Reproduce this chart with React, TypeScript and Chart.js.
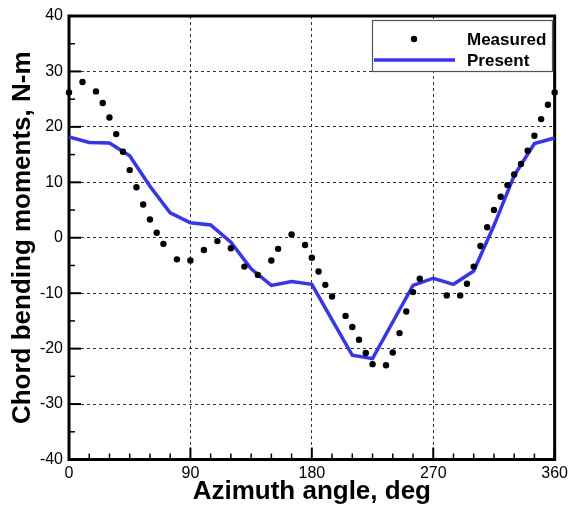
import React, { useEffect, useRef } from "react";
import { Chart, registerables } from "chart.js";

Chart.register(...registerables);

// Measured chord bending moments (azimuth deg, N-m)
const measuredAngles = [0, 10, 20, 25, 30, 35, 40, 45, 50, 55, 60, 65, 70, 80, 90, 100, 110, 120, 130, 140, 150, 155, 165, 175, 180, 185, 190, 195, 205, 210, 215, 220, 225, 235, 240, 245, 250, 255, 260, 280, 290, 295, 300, 305, 310, 315, 320, 325, 330, 335, 340, 345, 350, 355, 360];
const measuredValues = [26.2, 28.1, 26.4, 24.3, 21.7, 18.7, 15.5, 12.2, 9.1, 6.0, 3.3, 0.9, -1.1, -3.9, -4.1, -2.2, -0.6, -1.9, -5.2, -6.7, -4.1, -2.0, 0.6, -1.3, -3.6, -6.1, -8.5, -10.6, -14.1, -16.1, -18.4, -20.8, -22.8, -23.0, -20.7, -17.2, -13.3, -9.8, -7.4, -10.4, -10.4, -8.3, -5.2, -1.5, 1.9, 5.0, 7.4, 9.5, 11.4, 13.3, 15.7, 18.4, 21.4, 24.0, 26.2];

// Present prediction
const presentAngles = [0, 15, 30, 45, 60, 75, 90, 105, 120, 135, 150, 165, 180, 195, 210, 225, 240, 255, 270, 285, 300, 315, 330, 345, 360];
const presentValues = [18.2, 17.2, 17.1, 14.8, 9.3, 4.5, 2.7, 2.3, -0.8, -5.6, -8.6, -7.9, -8.4, -14.8, -21.2, -21.8, -15.2, -8.6, -7.3, -8.4, -6.0, 2.2, 11.2, 17.0, 18.0];

const xTicks = [0, 90, 180, 270, 360];
const yTicks = [-40, -30, -20, -10, 0, 10, 20, 30, 40];
const seriesNames = ["Measured", "Present"];
const xTitle = "Azimuth angle, deg";
const yTitle = "Chord bending moments, N-m";

const FONT = "'Liberation Sans', Arial, Helvetica, sans-serif";
const BLUE = "#3333ff";

const framePlugin = {
  id: "frameTicksLegend",
  beforeDatasetsDraw(chart: any) {
    const { ctx, chartArea } = chart;
    const { left, right, top, bottom } = chartArea;
    const xs = chart.scales.x;
    const ys = chart.scales.y;
    ctx.save();
    ctx.setLineDash([]);
    ctx.strokeStyle = "#000";
    // minor/major ticks on left axis (inward)
    for (let v = -40; v <= 40; v += 5) {
      const y = ys.getPixelForValue(v);
      const major = v % 10 === 0;
      ctx.lineWidth = major ? 2 : 1.5;
      ctx.beginPath();
      ctx.moveTo(left, y);
      ctx.lineTo(left + (major ? 12 : 6), y);
      ctx.stroke();
    }
    // ticks on bottom axis (inward)
    for (let v = 0; v <= 360; v += 15) {
      const x = xs.getPixelForValue(v);
      const major = v % 90 === 0;
      ctx.lineWidth = major ? 2 : 1.5;
      ctx.beginPath();
      ctx.moveTo(x, bottom);
      ctx.lineTo(x, bottom - (major ? 12 : 6));
      ctx.stroke();
    }
    // frame
    ctx.lineWidth = 3;
    ctx.strokeRect(left, top, right - left, bottom - top);
    ctx.restore();
  },
  afterDraw(chart: any) {
    const { ctx } = chart;
    ctx.save();
    ctx.setLineDash([]);
    // legend
    const lx = 372, ly = 20, lw = 180, lh = 51;
    ctx.fillStyle = "#fff";
    ctx.fillRect(lx, ly, lw, lh);
    ctx.lineWidth = 1.2;
    ctx.strokeStyle = "#555";
    ctx.strokeRect(lx + 0.5, ly + 0.5, lw, lh);
    ctx.fillStyle = "#000";
    ctx.beginPath();
    ctx.arc(414, 39, 3.2, 0, Math.PI * 2);
    ctx.fill();
    ctx.strokeStyle = BLUE;
    ctx.lineWidth = 3.5;
    ctx.beginPath();
    ctx.moveTo(374, 60);
    ctx.lineTo(455, 60);
    ctx.stroke();
    ctx.fillStyle = "#000";
    ctx.font = `bold 17px ${FONT}`;
    ctx.textAlign = "left";
    ctx.textBaseline = "alphabetic";
    ctx.fillText(seriesNames[0], 467, 45);
    ctx.fillText(seriesNames[1], 467, 65.5);
    ctx.restore();
  },
};

export default function App() {
  const ref = useRef<HTMLCanvasElement>(null);
  useEffect(() => {
    if (!ref.current) return;
    Chart.defaults.font.family = FONT;
    const measured = measuredAngles.map((a, i) => ({ x: a, y: measuredValues[i] }));
    const present = presentAngles.map((a, i) => ({ x: a, y: presentValues[i] }));
    const chart = new Chart(ref.current, {
      type: "scatter",
      data: {
        datasets: [
          {
            label: seriesNames[0],
            data: measured,
            showLine: false,
            pointRadius: 3.2,
            pointHoverRadius: 3.2,
            pointBackgroundColor: "#000",
            pointBorderWidth: 0,
            backgroundColor: "#000",
            borderColor: "#000",
            clip: false,
            order: 0,
          } as any,
          {
            label: seriesNames[1],
            data: present,
            showLine: true,
            pointRadius: 0,
            borderColor: BLUE,
            backgroundColor: BLUE,
            borderWidth: 3.5,
            tension: 0,
            fill: false,
            order: 1,
          } as any,
        ],
      },
      options: {
        responsive: false,
        animation: false,
        devicePixelRatio: 1,
        layout: { padding: { top: 16, right: 16, left: 0, bottom: 0 } },
        plugins: { legend: { display: false }, tooltip: { enabled: false } },
        scales: {
          x: {
            type: "linear",
            min: 0,
            max: 360,
            afterBuildTicks: (s: any) => {
              s.ticks = xTicks.map((v) => ({ value: v }));
            },
            afterFit: (s: any) => {
              s.height = 50.5;
            },
            ticks: { color: "#000", font: { size: 16 }, padding: 4, maxRotation: 0 },
            grid: { color: "#333", lineWidth: 1, drawTicks: false, borderDash: [3, 3] } as any,
            border: { display: false, dash: [3, 3] },
            title: {
              display: true,
              text: xTitle,
              color: "#000",
              font: { size: 26, weight: "bold" },
              padding: { top: 0, bottom: 3 },
            },
          },
          y: {
            type: "linear",
            min: -40,
            max: 40,
            afterBuildTicks: (s: any) => {
              s.ticks = yTicks.map((v) => ({ value: v }));
            },
            afterFit: (s: any) => {
              s.width = 69;
            },
            ticks: { color: "#000", font: { size: 16 }, padding: 6 },
            grid: { color: "#333", lineWidth: 1, drawTicks: false, borderDash: [3, 3] } as any,
            border: { display: false, dash: [3, 3] },
            title: {
              display: true,
              text: yTitle,
              color: "#000",
              font: { size: 26, weight: "bold" },
              padding: { top: 7, bottom: 0 },
            },
          },
        },
      },
      plugins: [framePlugin],
    });
    return () => chart.destroy();
  }, []);
  return (
    <div style={{ position: "fixed", left: 0, top: 0, width: 572, height: 510, background: "#fff" }}>
      <canvas ref={ref} width={572} height={510} style={{ display: "block" }} />
    </div>
  );
}
